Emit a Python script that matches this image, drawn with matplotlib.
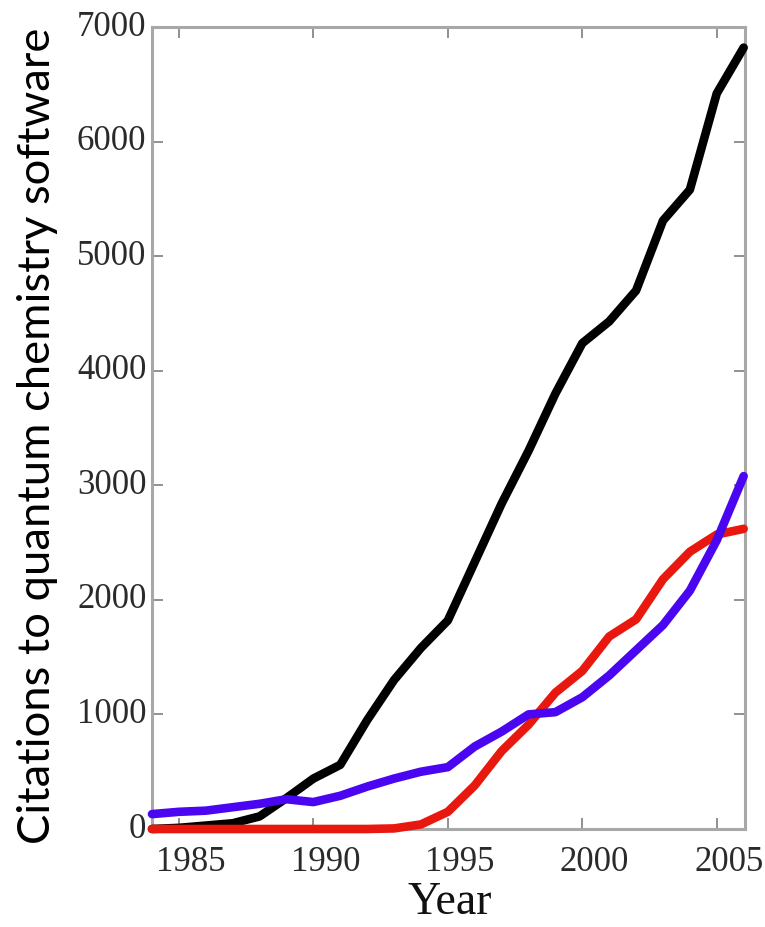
import matplotlib
matplotlib.use("Agg")
import matplotlib.pyplot as plt
import matplotlib.transforms as mtransforms

years = list(range(1984, 2007))

# Citation counts per year for three groups of quantum chemistry packages
black_series = [0, 10, 30, 50, 110, 270, 440, 560, 950, 1300, 1580, 1820,
                2330, 2840, 3300, 3800, 4240, 4430, 4700, 5310, 5580, 6420, 6820]
blue_series = [130, 150, 160, 190, 220, 260, 235, 290, 370, 440, 500, 540,
               720, 850, 1000, 1020, 1150, 1340, 1560, 1780, 2080, 2520, 3080]
red_series = [0, 0, 0, 0, 0, 0, 0, 0, 0, 5, 40, 150,
              380, 680, 910, 1190, 1380, 1680, 1830, 2180, 2420, 2570, 2620]

x_ticks = [1985, 1990, 1995, 2000, 2005]
y_ticks = [0, 1000, 2000, 3000, 4000, 5000, 6000, 7000]

fig = plt.figure(figsize=(7.65, 9.27), dpi=100)
ax = fig.add_axes([152 / 765, 1 - 829 / 927, (745 - 152) / 765, (829 - 27) / 927])

line_kw = dict(lw=6.2, solid_capstyle="round", solid_joinstyle="round", clip_on=False)
ax.plot(years, black_series, color="#000000", zorder=3, **line_kw)
ax.plot(years, red_series, color="#e8180e", zorder=4, **line_kw)
ax.plot(years, blue_series, color="#4a06f0", zorder=5, **line_kw)

ax.set_xlim(1984, 2006.05)
ax.set_ylim(0, 7000)

spine_color = "#a8a8a8"
for s in ax.spines.values():
    s.set_color(spine_color)
    s.set_linewidth(2.2)

ax.set_xticks(x_ticks)
ax.set_yticks(y_ticks)
ax.tick_params(direction="in", length=8, width=1.3, color="#888888",
               top=True, right=True, labelsize=25, labelcolor="#2a2a2a")
ax.tick_params(axis="y", pad=4)
ax.tick_params(axis="x", pad=12)

serif = ["Liberation Serif", "DejaVu Serif"]
for lbl in ax.get_xticklabels() + ax.get_yticklabels():
    lbl.set_fontfamily(serif)

# shift tick labels slightly
dx = mtransforms.ScaledTranslation(12 / 100, 0, fig.dpi_scale_trans)
for lbl in ax.get_xticklabels():
    lbl.set_transform(lbl.get_transform() + dx)
dy = mtransforms.ScaledTranslation(0, 4 / 100, fig.dpi_scale_trans)
for lbl in ax.get_yticklabels():
    lbl.set_transform(lbl.get_transform() + dy)

fig.text(450 / 765, 1 - 903 / 927, "Year", ha="center", va="center",
         fontsize=33, family=serif, color="#111111")

ylab = fig.text(38 / 765, 1 - 436 / 927, "Citations to quantum chemistry software",
                rotation=90, ha="center", va="center", fontsize=36,
                family=["Lato", "DejaVu Sans"], color="#000000")
# scale the label so it spans the desired height
fig.canvas.draw()
bb = ylab.get_window_extent(renderer=fig.canvas.get_renderer())
target = 815.0
ylab.set_fontsize(36 * target / bb.height)

fig.savefig("out.png", dpi=100, facecolor="white")
